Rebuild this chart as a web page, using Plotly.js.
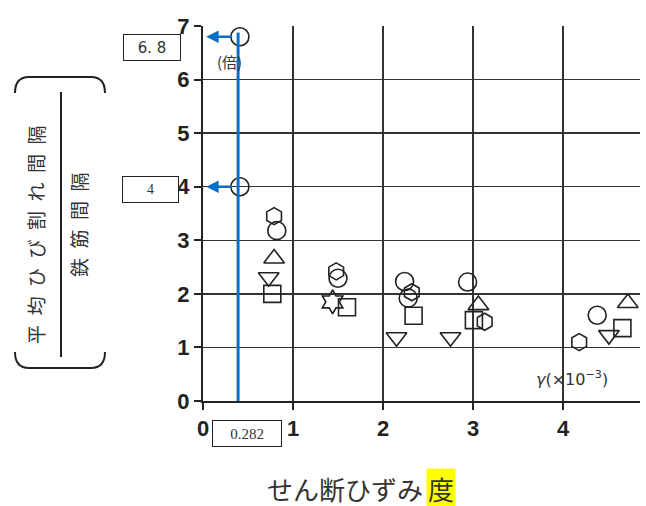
<!DOCTYPE html>
<html>
<head>
<meta charset="utf-8">
<script src="https://cdn.plot.ly/plotly-3.0.1.min.js"></script>
<style>
  body { margin: 0; background: #fff; }
  #plot { width: 646px; height: 506px; }
</style>
</head>
<body>
<div id="plot"></div>
<script>
// readings taken off the scanned figure (x: shear strain x10^-3, y: crack spacing ratio)
var circleX = [0.41, 0.41, 0.82, 1.50, 2.24, 2.28, 2.94, 4.38];
var circleY = [6.80, 4.00, 3.18, 2.29, 2.23, 1.92, 2.22, 1.60];
var hexX = [0.79, 1.48, 2.32, 3.13, 4.18];
var hexY = [3.45, 2.42, 2.03, 1.48, 1.10];
var triUpX = [0.79, 3.06, 4.72];
var triUpY = [2.66, 1.79, 1.83];
var triDownX = [0.73, 2.15, 2.75, 4.51];
var triDownY = [2.31, 1.19, 1.19, 1.23];
var squareX = [0.77, 1.60, 2.34, 3.01, 4.66];
var squareY = [2.00, 1.75, 1.59, 1.51, 1.36];
var starX = [1.44];
var starY = [1.85];

var markX = 0.39;         // blue guide line
var markLabel = '0.282';
var calloutY = [6.8, 4];
var calloutText = ['6. 8', '4'];

var ink = '#222';
var blue = '#0a6fc4';

function series(x, y, sym, size) {
  return {
    x: x, y: y, type: 'scatter', mode: 'markers', cliponaxis: false,
    marker: { symbol: sym, size: size, color: ink, line: { color: ink, width: 1.6 } },
    hoverinfo: 'x+y'
  };
}

var data = [
  series(circleX, circleY, 'circle-open', 18),
  series(hexX, hexY, 'hexagon-open', 17),
  series(triUpX, triUpY, 'triangle-up-open', 18),
  series(triDownX, triDownY, 'triangle-down-open', 18),
  series(squareX, squareY, 'square-open', 17),
  series(starX, starY, 'hexagram-open', 18)
];

// pixel -> paper helpers for the decoration outside the plot
var L = 203, T = 26, W = 437, H = 375;
function px(x) { return (x - L) / W; }
function py(y) { return (T + H - y) / H; }
function path(pts) {
  return pts.map(function (p) { return p[0] + px(p[1]).toFixed(4) + ',' + py(p[2]).toFixed(4); }).join(' ');
}
function label(x, y, text, font, extra) {
  var a = { xref: 'paper', yref: 'paper', x: px(x), y: py(y), xanchor: 'center', yanchor: 'middle',
    text: text, showarrow: false, font: font };
  for (var k in extra) a[k] = extra[k];
  return a;
}

var shapes = [
  { type: 'line', xref: 'x', yref: 'y', x0: markX, x1: markX, y0: 0, y1: 6.88,
    line: { color: blue, width: 3 } },
  // fraction bar of the y title
  { type: 'line', xref: 'paper', yref: 'paper', x0: px(61), x1: px(61), y0: py(92), y1: py(357),
    line: { color: ink, width: 2 } },
  // brackets
  { type: 'path', xref: 'paper', yref: 'paper', line: { color: ink, width: 2 },
    path: path([['M', 15, 93], ['Q', 15, 77], ['', 29, 77], ['L', 91, 77], ['Q', 105, 77], ['', 105, 93]]) },
  { type: 'path', xref: 'paper', yref: 'paper', line: { color: ink, width: 2 },
    path: path([['M', 15, 352], ['Q', 15, 368], ['', 29, 368], ['L', 91, 368], ['Q', 105, 368], ['', 105, 352]]) }
];

var annotations = [];
calloutY.forEach(function (v) {
  annotations.push({ xref: 'x', yref: 'y', axref: 'x', ayref: 'y', x: 0.035, y: v, ax: markX - 0.05, ay: v,
    text: '', showarrow: true, arrowhead: 2, arrowsize: 1, arrowwidth: 2.5, arrowcolor: blue });
});
var boxed = { borderpad: 0, bordercolor: ink, borderwidth: 1, bgcolor: '#fff', height: 25 };
var cjk = 'Noto Sans CJK JP';
annotations.push(
  label(152, 48, calloutText[0], { family: 'DejaVu Sans', size: 15, color: '#333' },
    Object.assign({ width: 56 }, boxed)),
  label(150, 189, calloutText[1], { family: 'Liberation Serif', size: 14, color: '#333' },
    Object.assign({ width: 55 }, boxed)),
  label(247, 433, markLabel, { family: 'Liberation Serif', size: 15, color: '#333' },
    Object.assign({ width: 68 }, boxed)),
  label(229, 62, '(倍)', { family: cjk, size: 15, color: '#333' }, {}),
  label(572, 378, '<i>γ</i>(×10<sup>−3</sup>)', { family: 'DejaVu Sans', size: 16, color: '#333' }, {}),
  // y title as a fraction
  label(35, 235, '平\u2002均\u2002ひ\u2002び\u2002割\u2002れ\u2002間\u2002隔',
    { family: cjk, size: 19, color: '#333' }, { textangle: -90 }),
  label(79, 225, '鉄\u2002筋\u2002間\u2002隔', { family: cjk, size: 19, color: '#333' }, { textangle: -90 }),
  // x title, last character highlighted
  label(425, 488, 'せん断ひずみ', { family: cjk, size: 26, color: '#333' }, { xanchor: 'right' }),
  label(426, 488, '度', { family: cjk, size: 26, color: '#333' },
    { xanchor: 'left', bgcolor: '#ffff00', borderpad: 1 })
);

var layout = {
  width: 646, height: 506,
  margin: { l: L, r: 646 - L - W, t: T, b: 506 - T - H },
  paper_bgcolor: '#fff', plot_bgcolor: '#fff',
  showlegend: false,
  xaxis: {
    range: [0, W / 90], tickvals: [0, 1, 2, 3, 4], ticktext: ['0', '1', '2', '3', '4'],
    showgrid: true, gridcolor: '#333', gridwidth: 1.5, zeroline: false,
    showline: true, linecolor: ink, linewidth: 2,
    ticks: 'outside', ticklen: 7, tickwidth: 2, tickcolor: ink,
    tickfont: { family: 'Liberation Sans', size: 22, color: '#222', weight: 'bold' }
  },
  yaxis: {
    range: [0, 7], dtick: 1,
    showgrid: true, gridcolor: '#333', gridwidth: 1.5, zeroline: false,
    showline: true, linecolor: ink, linewidth: 2,
    ticks: 'outside', ticklen: 7, tickwidth: 2, tickcolor: ink,
    tickfont: { family: 'Liberation Sans', size: 22, color: '#222', weight: 'bold' }
  },
  shapes: shapes,
  annotations: annotations
};

Plotly.newPlot('plot', data, layout, { displayModeBar: false, staticPlot: true });
</script>
</body>
</html>
